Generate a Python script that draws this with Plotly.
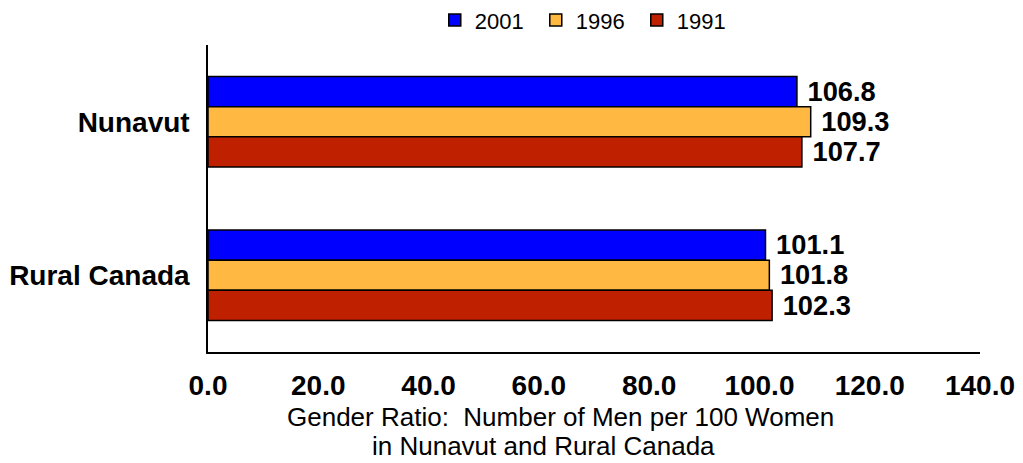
import plotly.graph_objs as go

regions = ['Nunavut', 'Rural Canada']
years = ['2001', '1996', '1991']
ratios = {
    '2001': [106.8, 101.1],
    '1996': [109.3, 101.8],
    '1991': [107.7, 102.3],
}
colors = {'2001': '#0000FF', '1996': '#FFB942', '1991': '#BF2000'}
x_ticks = [0, 20, 40, 60, 80, 100, 120, 140]
title_lines = ['Gender Ratio:  Number of Men per 100 Women',
               'in Nunavut and Rural Canada']

FONT = 'Liberation Sans, Arial, sans-serif'

fig = go.Figure()
for yr in years:
    fig.add_trace(go.Bar(
        y=regions,
        x=ratios[yr],
        name=yr,
        orientation='h',
        marker=dict(color=colors[yr], line=dict(color='black', width=1.5)),
        texttemplate='\u00a0%{x:.1f}',
        textposition='outside',
        textfont=dict(family=FONT, size=28, color='black', weight='bold'),
        cliponaxis=False,
    ))

# the page body adds ~8px offset, so margins are shifted to compensate
fig.update_layout(
    width=1023, height=463,
    margin=dict(l=200, r=51, t=37, b=119, autoexpand=False),
    plot_bgcolor='white', paper_bgcolor='white',
    barmode='group', bargap=0.41, bargroupgap=0,
    font=dict(family=FONT, color='black'),
    showlegend=True,
    legend=dict(orientation='h', x=0.49, xanchor='center', y=1.081, yanchor='middle',
                font=dict(size=22), itemwidth=30, traceorder='normal',
                entrywidth=56),
    xaxis=dict(range=[0, 140], tickvals=x_ticks,
               ticktext=[f'{v:.1f}' for v in x_ticks],
               showgrid=False, zeroline=False, showline=True,
               linecolor='black', linewidth=1.5, ticks='', automargin=False,
               tickfont=dict(size=28, weight='bold'), ticklabelstandoff=8),
    yaxis=dict(autorange='reversed', showgrid=False, showline=True,
               linecolor='black', linewidth=1.5, ticks='', automargin=False,
               tickfont=dict(size=28, weight='bold'), ticklabelstandoff=11),
)

for line, xpos, ypos in zip(title_lines, [0.456, 0.435], [-0.212, -0.306]):
    fig.add_annotation(
        text=line, xref='paper', yref='paper', x=xpos, y=ypos,
        xanchor='center', yanchor='middle',
        showarrow=False, font=dict(size=26),
    )

fig.write_html('out.html')
